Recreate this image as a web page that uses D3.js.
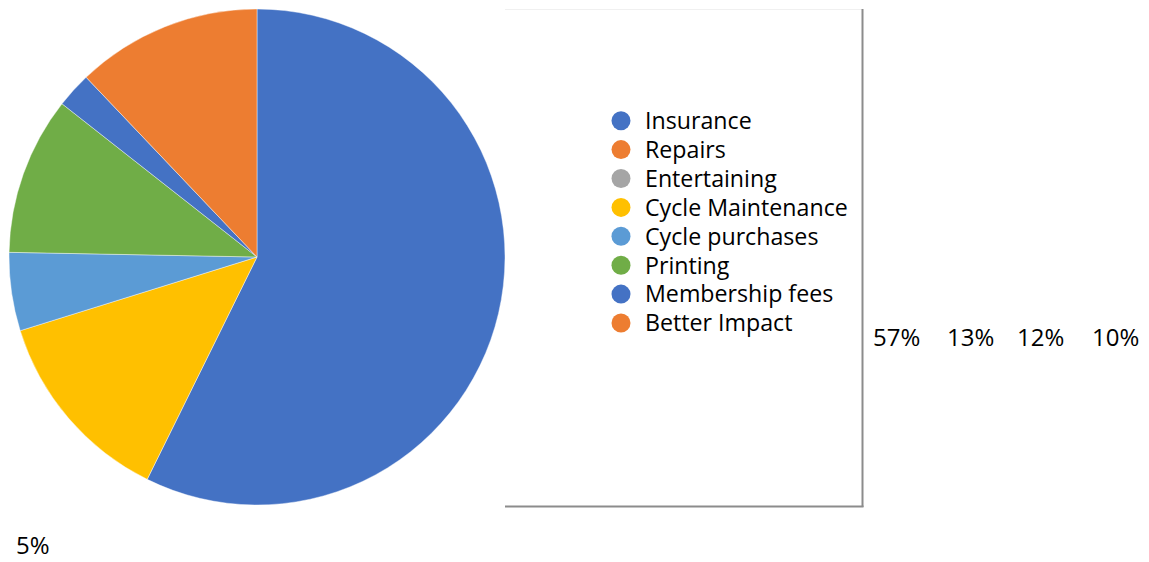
<!DOCTYPE html>
<html>
<head>
<meta charset="utf-8">
<script src="https://cdn.jsdelivr.net/npm/d3@7/dist/d3.min.js"></script>
<style>
html,body{margin:0;padding:0;background:#fff;}
svg{display:block;}
text{font-family:"Open Sans","Noto Sans",sans-serif;fill:#000;}
</style>
</head>
<body>
<svg id="chart" width="1149" height="562"></svg>
<script>
const categories = ["Insurance","Repairs","Entertaining","Cycle Maintenance","Cycle purchases","Printing","Membership fees","Better Impact"];
const values = [57.3, 0, 0, 12.9, 5.1, 10.3, 2.3, 12.1];
const colors = ["#4472C4","#ED7D31","#A5A5A5","#FFC000","#5B9BD5","#70AD47","#4472C4","#ED7D31"];
const rightLabels = ["57%","13%","12%","10%"];
const bottomLabels = ["5%"];

const svg = d3.select("#chart");
const data = categories.map((c,i)=>({name:c, value:values[i], color:colors[i]}));

// Frame
const frame = svg.append("g");
frame.append("line").attr("x1",505).attr("x2",862).attr("y1",9.5).attr("y2",9.5).attr("stroke","#f0f0f0").attr("stroke-width",1);
frame.append("line").attr("x1",862.5).attr("x2",862.5).attr("y1",9).attr("y2",507).attr("stroke","#8c8c8c").attr("stroke-width",2);
frame.append("line").attr("x1",505).attr("x2",863.5).attr("y1",506.5).attr("y2",506.5).attr("stroke","#8c8c8c").attr("stroke-width",2);

// Pie
const cx = 257, cy = 257, r = 248;
const pie = d3.pie().sort(null).value(d=>d.value);
const arc = d3.arc().innerRadius(0).outerRadius(r);
svg.append("g").attr("transform",`translate(${cx},${cy})`)
  .selectAll("path").data(pie(data).filter(d=>d.data.value>0)).join("path")
  .attr("d",arc).attr("fill",d=>d.data.color)
  .attr("stroke","#ffffff").attr("stroke-width",0.6).attr("stroke-opacity",0.7);

// Legend
const ly = d3.scaleLinear().domain([0,1]).range([120.7,149.6]);
const lg = svg.append("g");
const items = lg.selectAll("g").data(data).join("g")
  .attr("transform",(d,i)=>`translate(621,${ly(i)})`);
items.append("circle").attr("r",9.5).attr("fill",d=>d.color);
items.append("text").attr("x",24).attr("y",0).attr("dy","0.36em")
  .style("font-size","23.2px").text(d=>d.name);

// Data labels
const lx = [873, 947, 1017, 1092];
svg.append("g").selectAll("text").data(rightLabels).join("text")
  .attr("x",(d,i)=>lx[i]).attr("y",346).style("font-size","24px").text(d=>d);
svg.append("g").selectAll("text").data(bottomLabels).join("text")
  .attr("x",16).attr("y",554).style("font-size","24px").text(d=>d);
</script>
</body>
</html>
